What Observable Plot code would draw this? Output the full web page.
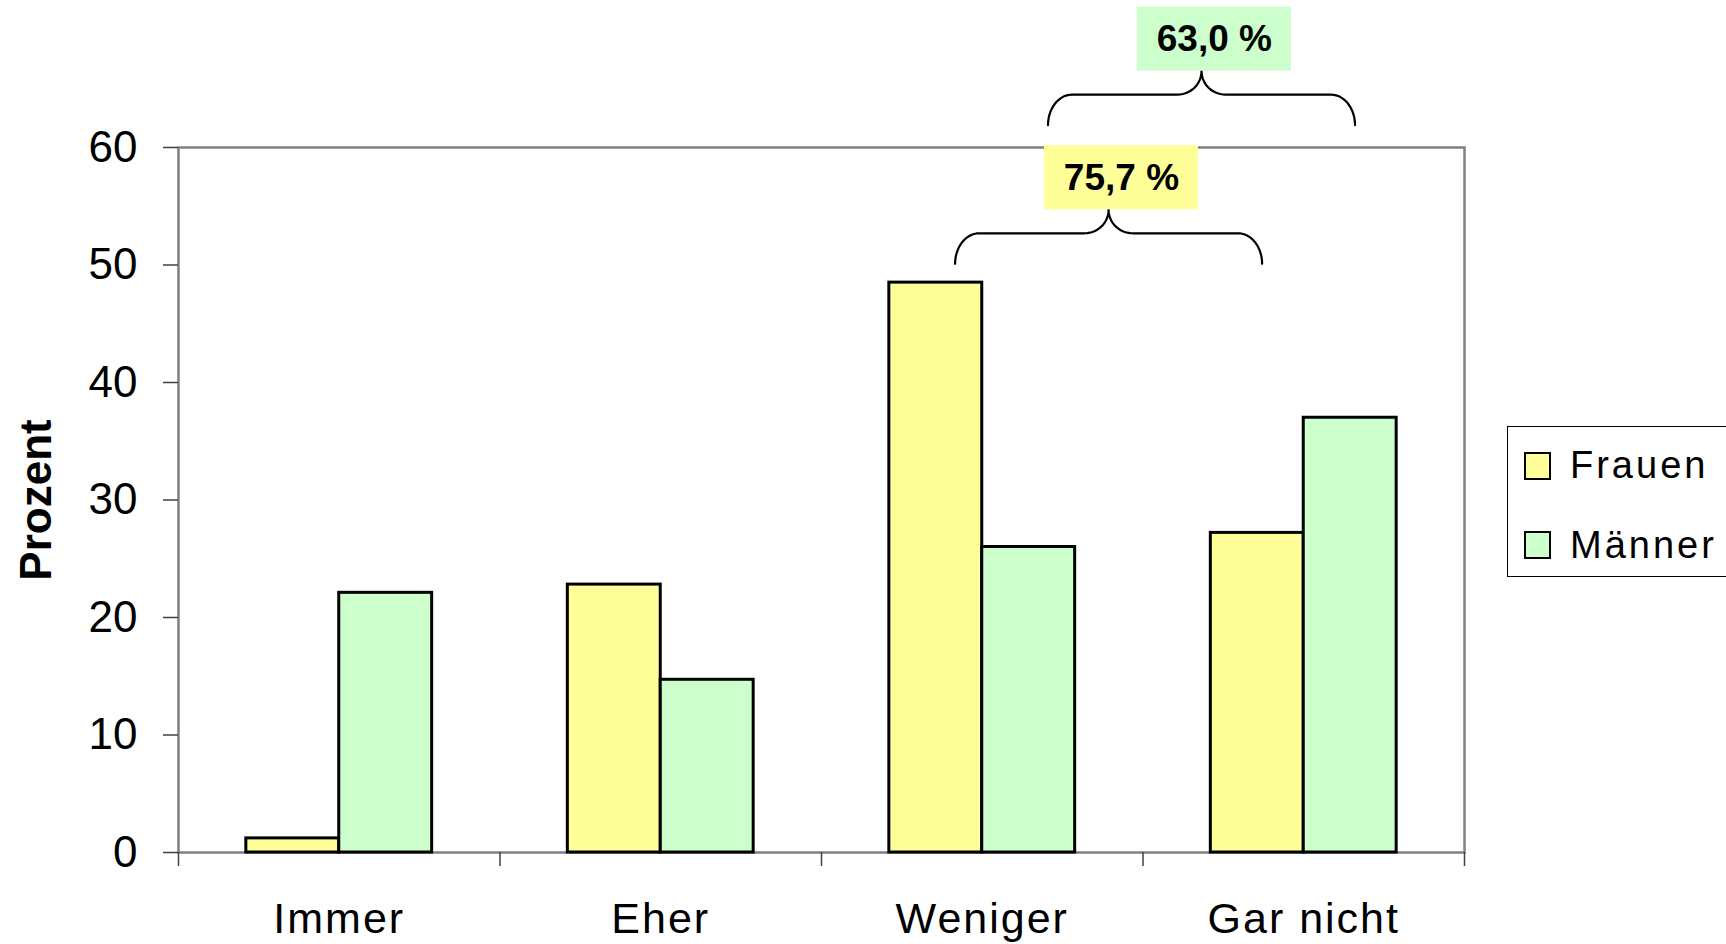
<!DOCTYPE html>
<html><head><meta charset="utf-8">
<script src="https://cdn.jsdelivr.net/npm/d3@7"></script>
<script src="https://cdn.jsdelivr.net/npm/@observablehq/plot@0.6"></script>
<style>
html,body{margin:0;padding:0;background:#fff;overflow:hidden;}
#wrap{position:relative;width:1726px;height:944px;}
#legend{position:absolute;left:1507px;top:426px;width:260px;height:149px;border:1px solid #000;background:#fff;font-family:"Liberation Sans",Arial,sans-serif;}
.sw{position:absolute;left:16px;width:27px;height:28px;border:2.5px solid #000;box-sizing:border-box;}
.lab{position:absolute;left:62px;font-size:38px;letter-spacing:3px;line-height:38px;white-space:nowrap;color:#000;}
</style></head>
<body><div id="wrap"></div>
<script>
// ---- data ----
const categories = ["Immer", "Eher", "Weniger", "Gar nicht"];
const series = ["Frauen", "Männer"];
const frauen = [1.2, 22.8, 48.5, 27.2];
const maenner = [22.1, 14.7, 26.0, 37.0];
const seriesColors = ["#FFFF99", "#CCFFCC"];
const yTicks = [0, 10, 20, 30, 40, 50, 60];
const yLabel = "Prozent";
const bracketFrom = "Weniger";
const bracketTo = "Gar nicht";

// ---- layout constants ----
const W = 1726, H = 944;
const barW = 0.289;          // bar width in category units
const braceBase = {Frauen: 50.1, "Männer": 61.9}; // brace end heights (y units)

const values = {Frauen: frauen, "Männer": maenner};
const rows = [];
categories.forEach((c, i) => series.forEach((s, j) => {
  const x1 = i + 0.5 + (j === 0 ? -barW : 0);
  rows.push({category: c, series: s, value: values[s][i], x1, x2: x1 + barW});
}));

function barCenter(s, c) {
  const i = categories.indexOf(c), j = series.indexOf(s);
  return i + 0.5 + (j === 0 ? -barW / 2 : barW / 2);
}

const braceRows = [];
const annRows = [];
const rx = 0.075, n = 14;
series.forEach(s => {
  const xL = barCenter(s, bracketFrom) + 0.06;
  const xR = barCenter(s, bracketTo) + 0.015;
  const xT = (xL + xR) / 2;
  const yEnd = braceBase[s], yH = yEnd + 2.6, yTip = yH + 2.0;
  const ryE = yH - yEnd, ryT = yTip - yH;
  const P = Math.PI;
  const push = (x, y) => braceRows.push({series: s, x, y});
  for (let k = 0; k <= n; k++) { const t = P - k / n * P / 2; push(xL + rx + rx * Math.cos(t), yEnd + ryE * Math.sin(t)); }
  for (let k = 0; k <= n; k++) { const t = -P / 2 + k / n * P / 2; push(xT - rx + rx * Math.cos(t), yTip + ryT * Math.sin(t)); }
  for (let k = 0; k <= n; k++) { const t = P + k / n * P / 2; push(xT + rx + rx * Math.cos(t), yTip + ryT * Math.sin(t)); }
  for (let k = 0; k <= n; k++) { const t = P / 2 - k / n * P / 2; push(xR - rx + rx * Math.cos(t), yEnd + ryE * Math.sin(t)); }
  const sum = values[s][categories.indexOf(bracketFrom)] + values[s][categories.indexOf(bracketTo)];
  const cx = xT + 0.04;
  annRows.push({series: s, x: cx, x1: cx - 0.2395, x2: cx + 0.2395, y1: yTip, y2: yTip + 5.45,
    y: yTip + 2.725, label: d3.format(".1f")(sum).replace(".", ",") + " %"});
});

const chart = Plot.plot({
  width: W, height: H,
  marginLeft: 178, marginRight: 262, marginTop: 147, marginBottom: 92,
  style: {fontFamily: "'Liberation Sans', Arial, sans-serif", background: "white", overflow: "visible"},
  x: {type: "linear", domain: [0, categories.length]},
  y: {domain: [0, 60]},
  color: {domain: series, range: seriesColors},
  marks: [
    Plot.frame({stroke: "#808080", strokeWidth: 2.5}),
    Plot.rectY(rows, {x1: "x1", x2: "x2", y: "value", fill: "series", stroke: "black", strokeWidth: 3}),
    Plot.axisY({ticks: yTicks, tickSize: 15, tickPadding: 26, fontSize: 44, label: null,
      stroke: "#404040", strokeWidth: 1.5, fill: "black", tickFormat: d => String(d)}),
    Plot.axisX({ticks: d3.range(categories.length + 1), tickSize: 14, tickFormat: () => "", label: null,
      stroke: "#404040", strokeWidth: 1.5}),
    Plot.axisX({ticks: categories.map((c, i) => i + 0.5), tickSize: 0, tickPadding: 50, fontSize: 43,
      label: null, fill: "black", tickFormat: d => categories[Math.floor(d)]}),
    Plot.text([yLabel], {text: d => d, frameAnchor: "left", textAnchor: "middle", dx: -142, rotate: -90,
      fontSize: 44, fontWeight: "bold", fill: "black"}),
    Plot.line(braceRows, {x: "x", y: "y", z: "series", stroke: "black", strokeWidth: 2.2}),
    Plot.rect(annRows, {x1: "x1", x2: "x2", y1: "y1", y2: "y2", fill: "series"}),
    Plot.text(annRows, {x: "x", y: "y", text: "label", fontSize: 37, fontWeight: "bold", fill: "black"})
  ]
});

d3.select(chart).selectAll('g[aria-label="x-axis tick label"] text').style("letter-spacing", "2px");

const wrap = document.getElementById("wrap");
wrap.appendChild(chart);

// legend
const legend = document.createElement("div");
legend.id = "legend";
series.forEach((s, j) => {
  const sw = document.createElement("div");
  sw.className = "sw";
  sw.style.top = (25 + j * 79) + "px";
  sw.style.background = seriesColors[j];
  legend.appendChild(sw);
  const lab = document.createElement("div");
  lab.className = "lab";
  lab.style.top = (19 + j * 80) + "px";
  lab.textContent = s;
  legend.appendChild(lab);
});
wrap.appendChild(legend);
</script>
</body></html>
